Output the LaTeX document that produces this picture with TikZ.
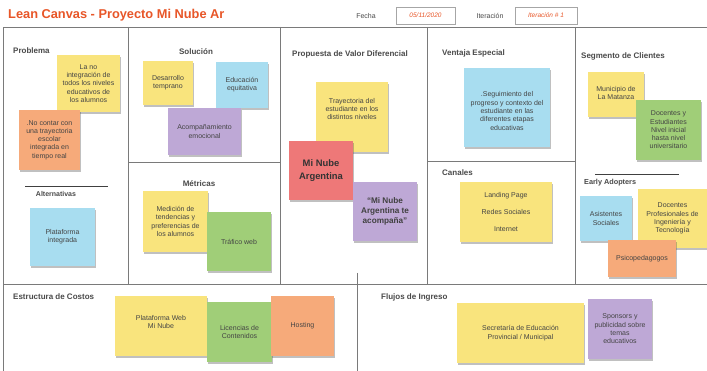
\documentclass[tikz,border=0pt]{standalone}
\usepackage{fontspec}
\setmainfont{Liberation Sans}
\usetikzlibrary{shadows}
\definecolor{cyel}{HTML}{F9E47D}
\definecolor{cblu}{HTML}{A8DDF0}
\definecolor{cpur}{HTML}{BEA8D6}
\definecolor{cgrn}{HTML}{A0CE78}
\definecolor{cora}{HTML}{F6AA7A}
\definecolor{cred}{HTML}{EE7878}
\definecolor{ctitle}{HTML}{E85628}
\definecolor{cline}{HTML}{7A7A7A}
\definecolor{clabel}{HTML}{4A4A4A}
\definecolor{ctext}{HTML}{444444}
\tikzset{
  frame/.style={draw=cline, line width=0.9pt},
  sepline/.style={draw=black!75, line width=0.7pt},
  sect/.style={font=\fontsize{8}{9}\selectfont\bfseries, text=clabel, inner sep=0pt},
  stk/.style={inner sep=0pt, align=center, text=ctext,
    font=\fontsize{7}{8.3}\selectfont,
    drop shadow={shadow xshift=0.6pt, shadow yshift=-1.6pt, opacity=0.35, fill=black!70}},
  stxt/.style={inner sep=0pt, align=center, text=ctext, font=\fontsize{7}{8.3}\selectfont},
  hbox/.style={draw=black!35, line width=0.6pt, inner sep=0pt},
  htxt/.style={font=\fontsize{7}{8}\selectfont, text=clabel, inner sep=0pt},
  hval/.style={font=\fontsize{6.5}{7}\selectfont\itshape, text=ctitle, inner sep=0pt}
}
\begin{document}
\begin{tikzpicture}[x=1pt,y=-1pt]
\useasboundingbox (0,0) rectangle (707,371);
\fill[white] (0,0) rectangle (707,371);

% header
\node[anchor=west, inner sep=0pt, text=ctitle, font=\fontsize{12.8}{14}\selectfont\bfseries] (title) at (8,15) {Lean Canvas - Proyecto Mi Nube Ar};
\node[htxt] (fecha) at (366,16) {Fecha};
\node[hbox, minimum width=59pt, minimum height=17pt] (fbox) at (425.5,15.5) {};
\node[hval] (fval) at (fbox.center) {05/11/2020};
\node[htxt] (iter) at (490,16) {Iteración};
\node[hbox, minimum width=62pt, minimum height=17pt] (ibox) at (546,15.5) {};
\node[hval] (ival) at (ibox.center) {Iteración \# 1};

% frame lines
\coordinate (tl) at (3,27);
\coordinate (tr) at (707,27);
\coordinate (bl) at (3,371);
\draw[frame] (tr) -- (tl) -- (bl);
\coordinate (v1a) at (128,27); \coordinate (v1b) at (128,284);
\coordinate (v2a) at (280,27); \coordinate (v2b) at (280,284);
\coordinate (v3a) at (427,27); \coordinate (v3b) at (427,284);
\coordinate (v4a) at (575,27); \coordinate (v4b) at (575,284);
\draw[frame] (v1a) -- (v1b);
\draw[frame] (v2a) -- (v2b);
\draw[frame] (v3a) -- (v3b);
\draw[frame] (v4a) -- (v4b);
\coordinate (h1a) at (128,162); \coordinate (h1b) at (280,162);
\coordinate (h2a) at (427,161); \coordinate (h2b) at (575,161);
\draw[frame] (h1a) -- (h1b);
\draw[frame] (h2a) -- (h2b);
\coordinate (hba) at (3,284); \coordinate (hbb) at (707,284);
\draw[frame] (hba) -- (hbb);
\coordinate (vba) at (357,273); \coordinate (vbb) at (357,371);
\draw[frame] (vba) -- (vbb);
\coordinate (s1a) at (25,186); \coordinate (s1b) at (108,186);
\draw[sepline] (s1a) -- (s1b);
\coordinate (s2a) at (595,174); \coordinate (s2b) at (679,174);
\draw[sepline] (s2a) -- (s2b);

% section labels
\node[sect, anchor=west] (lprob) at (13,51) {Problema};
\node[sect, font=\fontsize{7}{8}\selectfont\bfseries] (lalt) at (56,194) {Alternativas};
\node[sect] (lsol) at (196,52) {Solución};
\node[sect] (lmet) at (199,184) {Métricas};
\node[sect] (lprop) at (350,54) {Propuesta de Valor Diferencial};
\node[sect, anchor=west] (lvent) at (442,53) {Ventaja Especial};
\node[sect, anchor=west] (lcan) at (442,173) {Canales};
\node[sect, anchor=west] (lseg) at (581,56) {Segmento de Clientes};
\node[sect, anchor=west, font=\fontsize{7.3}{8}\selectfont\bfseries] (lear) at (584,183) {Early Adopters};
\node[sect, anchor=west] (lcost) at (13,297) {Estructura de Costos};
\node[sect, anchor=west] (lflu) at (381,297) {Flujos de Ingreso};

% Problema
\node[stk, fill=cyel, minimum width=63pt, minimum height=57pt] (p1) at (88.5,83.5)
  {La no\\integración de\\todos los niveles\\educativos de\\los alumnos};
\node[stk, fill=cora, minimum width=61pt, minimum height=60pt] (p2) at (49.5,140)
  {.No contar con\\una trayectoria\\escolar\\integrada en\\tiempo real};
\node[stk, fill=cblu, minimum width=65pt, minimum height=58pt] (alt) at (62.5,237)
  {Plataforma\\integrada};

% Solucion
\node[stk, fill=cyel, minimum width=50pt, minimum height=44pt] (s1) at (168,83)
  {Desarrollo\\temprano};
\node[stk, fill=cblu, minimum width=52pt, minimum height=46pt] (s2) at (242,85)
  {Educación\\equitativa};
\node[stk, fill=cpur, minimum width=73pt, minimum height=47pt] (s3) at (204.5,131.5)
  {Acompañamiento\\emocional};

% Metricas
\node[stk, fill=cyel, minimum width=65pt, minimum height=61pt] (m1) at (175.5,221.5)
  {Medición de\\tendencias y\\preferencias de\\los alumnos};
\node[stk, fill=cgrn, minimum width=64pt, minimum height=59pt] (m2) at (239,241.5)
  {Tráfico web};

% Propuesta
\node[stk, fill=cyel, minimum width=72pt, minimum height=70pt] (v1) at (352,117) {};
\node[stxt] (v1t) at (352,109) {Trayectoria del\\estudiante en los\\distintos niveles};
\node[stk, fill=cred, minimum width=64pt, minimum height=59pt,
  font=\fontsize{9.4}{12.3}\selectfont\bfseries, text=black!80] (v2) at (321,170.5)
  {Mi Nube\\Argentina};
\node[stk, fill=cpur, minimum width=64pt, minimum height=59pt,
  font=\fontsize{8.2}{10}\selectfont\bfseries, text=black!75] (v3) at (385,211.5)
  {“Mi Nube\\Argentina te\\acompaña”};

% Ventaja
\node[stk, fill=cblu, minimum width=86pt, minimum height=79pt] (ve) at (507,107.5) {};
\node[stxt] (vet) at (507,111) {.Seguimiento del\\progreso y contexto del\\estudiante en las\\diferentes etapas\\educativas};

% Canales
\node[stk, fill=cyel, minimum width=92pt, minimum height=60pt,
  font=\fontsize{7}{17}\selectfont] (ca) at (506,212)
  {Landing Page\\Redes Sociales\\Internet};

% Segmento
\node[stk, fill=cyel, minimum width=56pt, minimum height=45pt] (c1) at (616,94.5) {};
\node[stxt] (c1t) at (616,93) {Municipio de\\La Matanza};
\node[stk, fill=cgrn, minimum width=65pt, minimum height=60pt] (c2) at (668.5,130)
  {Docentes y\\Estudiantes\\Nivel inicial\\hasta nivel\\universitario};

% Early adopters
\node[stk, fill=cblu, minimum width=52pt, minimum height=45pt] (e1) at (606,218.5)
  {Asistentes\\Sociales};
\node[stk, fill=cyel, minimum width=69pt, minimum height=59pt] (e2) at (672.5,218.5)
  {Docentes\\Profesionales de\\Ingeniería y\\Tecnología};
\node[stk, fill=cora, minimum width=68pt, minimum height=37pt] (e3) at (642,258.5)
  {Psicopedagogos};

% Costos
\node[stk, fill=cyel, minimum width=92pt, minimum height=60pt] (k1) at (161,326) {};
\node[stxt] (k1t) at (161,322) {Plataforma Web\\Mi Nube};
\node[stk, fill=cgrn, minimum width=65pt, minimum height=60pt] (k2) at (239.5,332)
  {Licencias de\\Contenidos};
\node[stk, fill=cora, minimum width=63pt, minimum height=60pt] (k3) at (302.5,326) {};
\node[stxt] (k3t) at (302.5,326) {Hosting};

% Ingresos
\node[stk, fill=cyel, minimum width=127pt, minimum height=60pt] (f1) at (520.5,333)
  {Secretaría de Educación\\Provincial / Municipal};
\node[stk, fill=cpur, minimum width=64pt, minimum height=60pt] (f2) at (620,329)
  {Sponsors y\\publicidad sobre\\temas\\educativos};
\end{tikzpicture}
\end{document}
